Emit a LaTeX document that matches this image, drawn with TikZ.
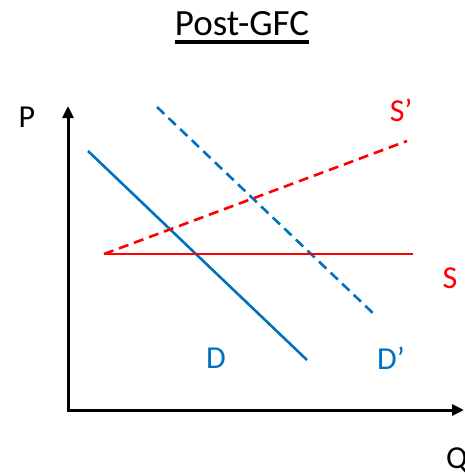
\documentclass[tikz,border=0pt]{standalone}
\usepackage{fontspec}
\setmainfont{Carlito}
\usetikzlibrary{arrows.meta,positioning,calc}
\definecolor{demandblue}{RGB}{0,112,192}
\tikzset{
  axis/.style={line width=3pt, {Triangle[length=12pt,width=11pt]}-{Triangle[length=12pt,width=11pt]}},
  demand/.style={line width=2.6pt, draw=demandblue},
  supply/.style={line width=2.6pt, draw=red},
  shifted/.style={dash pattern=on 10pt off 6pt},
  lbl/.style={font=\fontsize{32}{38}\selectfont, inner sep=0pt}
}

\begin{document}
\begin{tikzpicture}[x=1pt,y=-1pt]
  \useasboundingbox (0,0) rectangle (464,474);
  % title
  \node[lbl, font=\fontsize{37}{44}\selectfont, anchor=base] (title) at (242,35) {Post-GFC};
  \draw[line width=3.5pt] ([yshift=-7pt]title.base west) -- ([yshift=-7pt]title.base east);
  % axes
  \coordinate (o) at (68,410);
  \coordinate (ptop) at (68,106);
  \coordinate (qend) at (464,410);
  \draw[axis] (ptop) -- (o) -- (qend);
  \node[lbl] (plab) at (27,117) {P};
  \node[lbl, anchor=west] (qlab) at (446,460) {Q};
  % curve ends
  \coordinate (dtop) at (88,151);
  \coordinate (dbot) at (307,360);
  \coordinate (dntop) at (157,107);
  \coordinate (dnbot) at (376,316);
  \coordinate (sl) at (104,254);
  \coordinate (sr) at (413,254);
  \coordinate (snr) at (407,141);
  \draw[demand] (dtop) -- (dbot);
  \draw[demand, shifted] (dntop) -- (dnbot);
  \draw[supply] (sl) -- (sr);
  \draw[supply, shifted] (sl) -- (snr);
  % labels
  \node[lbl, text=demandblue] (dlab) at (216,358) {D};
  \node[lbl, text=demandblue] (dnlab) at (391,358) {D'};
  \node[lbl, text=red] (slab) at (450,278) {S};
  \node[lbl, text=red] (snlab) at (401,110) {S'};
\end{tikzpicture}
\end{document}
